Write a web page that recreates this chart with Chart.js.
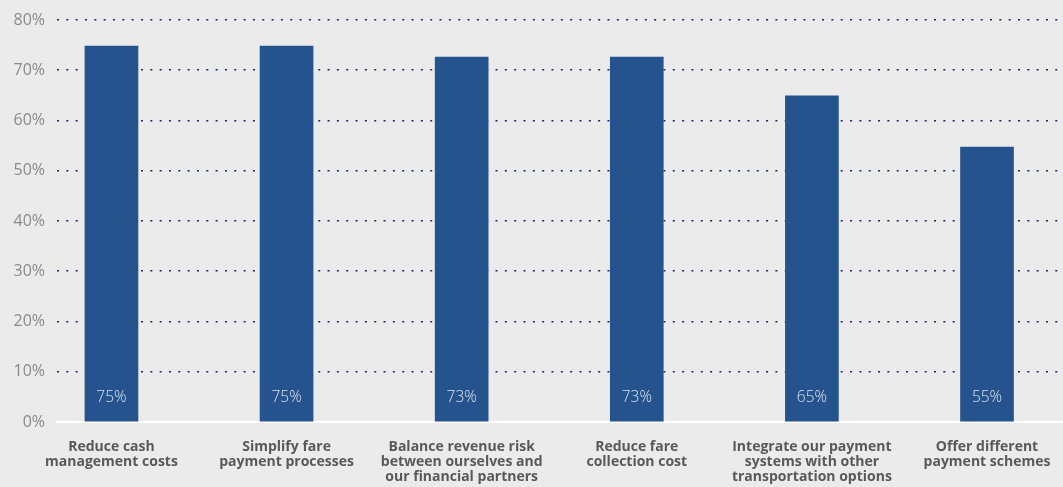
<!DOCTYPE html>
<html>
<head>
<meta charset="utf-8">
<script src="https://cdn.jsdelivr.net/npm/chart.js@4/dist/chart.umd.min.js"></script>
<style>
  html, body { margin: 0; padding: 0; background: #ebebeb; }
  #wrap { width: 1063px; height: 487px; position: relative; }
</style>
</head>
<body>
<div id="wrap"><canvas id="c"></canvas></div>
<script>
const categories = [
  ["Reduce cash", "management costs"],
  ["Simplify fare", "payment processes"],
  ["Balance revenue risk", "between ourselves and", "our financial partners"],
  ["Reduce fare", "collection cost"],
  ["Integrate our payment", "systems with other", "transportation options"],
  ["Offer different", "payment schemes"]
];
const values = [74.8, 74.8, 72.6, 72.6, 64.9, 54.7];
const valueLabels = ["75%", "75%", "73%", "73%", "65%", "55%"];
const yTicks = [0, 10, 20, 30, 40, 50, 60, 70, 80];

const FONT = "'Open Sans', 'Noto Sans', sans-serif";

const barLabelPlugin = {
  id: 'barLabels',
  afterDatasetsDraw(chart) {
    const ctx = chart.ctx;
    const meta = chart.getDatasetMeta(0);
    const y0 = chart.scales.y.getPixelForValue(0);
    ctx.save();
    ctx.font = "300 15.5px " + FONT;
    ctx.fillStyle = '#dbe4ef';
    ctx.textAlign = 'center';
    ctx.textBaseline = 'middle';
    meta.data.forEach((bar, i) => {
      ctx.fillText(valueLabels[i], bar.x, y0 - 24);
    });
    ctx.restore();
  }
};

new Chart(document.getElementById('c'), {
  type: 'bar',
  data: {
    datasets: [{
      data: values.map((v, i) => ({ x: i, y: v })),
      backgroundColor: '#24538e',
      barThickness: 53
    }]
  },
  options: {
    responsive: true,
    maintainAspectRatio: false,
    animation: false,
    events: [],
    layout: { padding: { top: 20, right: 0, bottom: 0, left: 0 } },
    plugins: { legend: { display: false }, tooltip: { enabled: false } },
    scales: {
      x: {
        type: 'linear',
        offset: false,
        min: -0.311,
        max: 5.434,
        afterBuildTicks(scale) {
          scale.ticks = categories.map((c, i) => ({ value: i }));
        },
        afterFit(scale) {
          scale.height = 65;
          scale.paddingLeft = 0;
          scale.paddingRight = 0;
        },
        grid: { display: false, drawTicks: false, offset: false },
        border: { display: true, color: '#ffffff', width: 2 },
        ticks: {
          autoSkip: false,
          maxRotation: 0,
          padding: 17,
          color: '#595959',
          font: { family: FONT, size: 14, weight: 'bold', lineHeight: 1.1 },
          callback: (v) => categories[v]
        }
      },
      y: {
        min: 0,
        max: 80,
        afterBuildTicks(scale) {
          scale.ticks = yTicks.map(v => ({ value: v }));
        },
        afterFit(scale) {
          scale.width = 57;
          scale.paddingTop = 0;
          scale.paddingBottom = 0;
        },
        grid: {
          drawTicks: false,
          color: (ctx) => ctx.tick && ctx.tick.value === 0 ? 'rgba(0,0,0,0)' : '#1c2566',
          lineWidth: 1.6
        },
        border: { display: false, dash: [2, 7.33] },
        ticks: {
          padding: 12,
          color: '#8a8a8a',
          font: { family: FONT, size: 16 },
          callback: (v) => v + '%'
        }
      }
    }
  },
  plugins: [barLabelPlugin]
});
</script>
</body>
</html>
